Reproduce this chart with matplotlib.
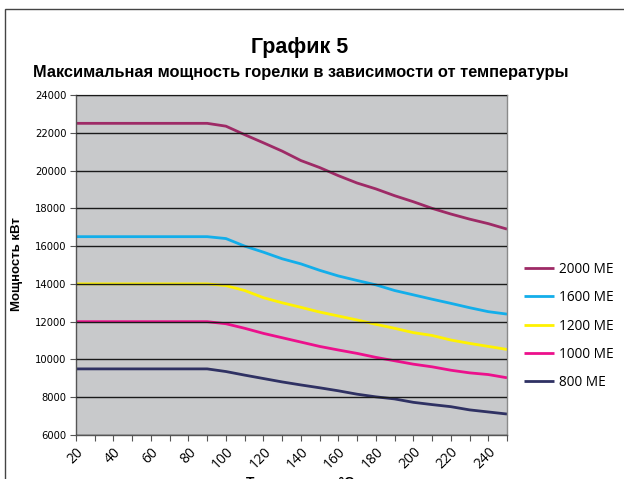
import matplotlib
matplotlib.use("Agg")
import matplotlib.pyplot as plt
from matplotlib.patches import Rectangle

temps = list(range(20, 260, 10))
tick_labels = [str(t) if (t - 20) % 20 == 0 else "" for t in temps]

me2000 = [22500]*8 + [22350, 21900, 21470, 21030, 20530, 20160, 19730, 19340,
                      19030, 18670, 18350, 18000, 17700, 17430, 17190, 16900]
me1600 = [16500]*8 + [16400, 16000, 15680, 15330, 15060, 14720, 14420, 14180,
                      13950, 13650, 13420, 13190, 12970, 12740, 12530, 12400]
me1200 = [14000]*8 + [13910, 13650, 13270, 13000, 12760, 12510, 12300, 12090,
                      11860, 11650, 11420, 11270, 11030, 10850, 10690, 10530]
me1000 = [12000]*8 + [11890, 11650, 11380, 11150, 10920, 10690, 10500, 10320,
                      10110, 9930, 9750, 9610, 9430, 9290, 9200, 9030]
me800 = [9500]*8 + [9360, 9170, 8990, 8810, 8650, 8500, 8340, 8160,
                    8020, 7910, 7730, 7610, 7500, 7330, 7220, 7110]

series_names = ["2000 ME", "1600 ME", "1200 ME", "1000 ME", "800 ME"]
series_values = [me2000, me1600, me1200, me1000, me800]
colors = ["#9E2A66", "#13AEEA", "#FFF200", "#EC108C", "#2F3163"]

yticks = list(range(6000, 24001, 2000))

W, H = 624, 479
fig = plt.figure(figsize=(W/100, H/100), dpi=100)
fig.patch.set_facecolor("white")

# outer border
fig.add_artist(Rectangle((5/W, -0.1), 1.0, (H-9)/H + 0.1, transform=fig.transFigure,
                         fill=False, edgecolor="#444444", linewidth=1.0))

ax = fig.add_axes([76/W, 1-435/H, (507-76)/W, (435-95)/H])
ax.set_facecolor("#C8C9CB")
x = list(range(len(temps)))
for name, vals, c in zip(series_names, series_values, colors):
    ax.plot(x, vals, color=c, lw=2.0, label=name, solid_capstyle="butt")

ax.set_xlim(0, len(temps)-1)
ax.set_ylim(6000, 24000)
ax.set_yticks(yticks)
ax.set_yticklabels([str(v) for v in yticks], fontsize=7.2, family="DejaVu Sans")
ax.set_xticks(x)
ax.set_xticklabels(tick_labels, rotation=45, ha="right", va="top",
                   rotation_mode="anchor", fontsize=10, family="Open Sans")
ax.tick_params(axis="both", direction="out", length=4, width=0.8, color="#555555", pad=3)
ax.grid(axis="y", color="#1a1a1a", lw=1.0)
ax.set_axisbelow(False)
for s in ax.spines.values():
    s.set_color("#8a8a8a")
    s.set_linewidth(1.0)
ax.spines["left"].set_color("#555555")
ax.spines["bottom"].set_color("#555555")

fig.text(300/W, 1-47/H, "График 5", ha="center", va="center",
         fontsize=15.5, fontweight="bold", family="Liberation Sans")
fig.text(301/W, 1-72/H, "Максимальная мощность горелки в зависимости от температуры",
         ha="center", va="center", fontsize=11.8, fontweight="bold", family="Liberation Sans")
fig.text(17/W, 1-264/H, "Мощность кВт", rotation=90, ha="center", va="center",
         fontsize=9.5, fontweight="bold", family="Liberation Sans")
fig.text(300/W, 1-476/H, "Температура °C", ha="center", va="top",
         fontsize=10, fontweight="bold", family="Liberation Sans")

leg = fig.legend(loc="upper left", bbox_to_anchor=(513/W, 1-251/H), frameon=False,
                 prop={"family": "Open Sans", "size": 9.8},
                 handlelength=2.2, labelspacing=0.98, handletextpad=0.4,
                 borderpad=0.3)

fig.savefig("out.png", dpi=100)
